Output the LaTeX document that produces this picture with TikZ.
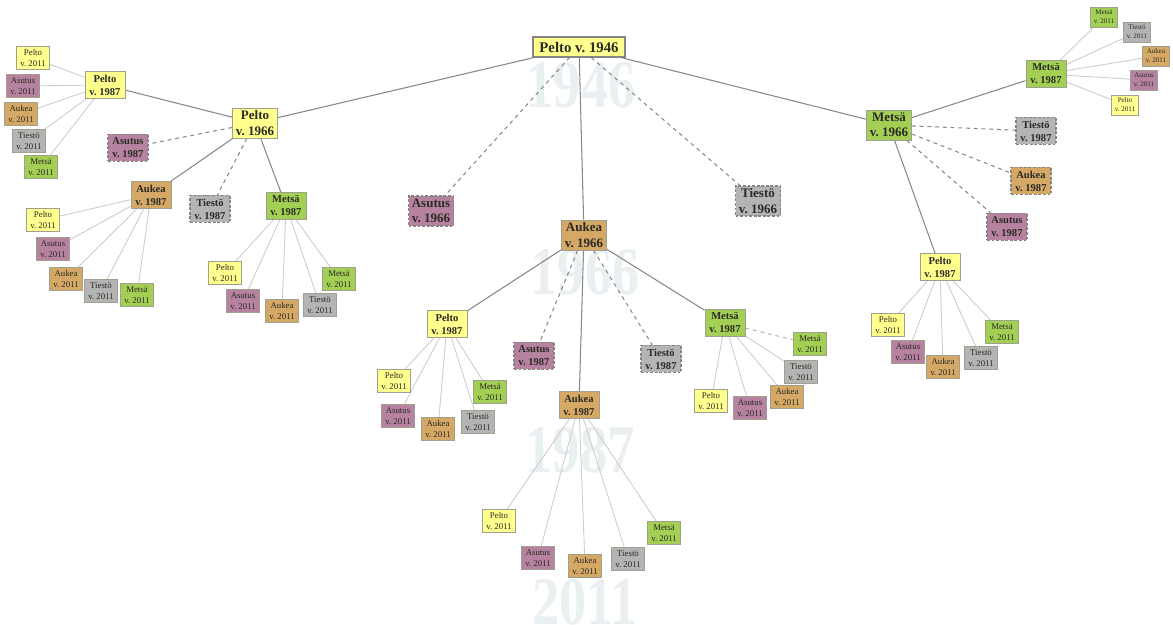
\documentclass[tikz,border=0pt]{standalone}
\usepackage{fontspec}
\setmainfont{Liberation Serif}
\frenchspacing
\pgfdeclarelayer{bg}
\pgfsetlayers{bg,main}
\definecolor{cpel}{HTML}{FFFF8E}
\definecolor{casu}{HTML}{B6829F}
\definecolor{cauk}{HTML}{D5A865}
\definecolor{ctie}{HTML}{B4B4B4}
\definecolor{cmet}{HTML}{A3CF55}
\definecolor{bord}{HTML}{A0A090}
\definecolor{bordd}{HTML}{858585}
\definecolor{edge}{HTML}{888888}
\definecolor{edgel}{HTML}{CDCDCD}
\definecolor{wmc}{HTML}{EAEFF1}
\definecolor{txt}{HTML}{2A2A26}
\newcommand\fiveleaves[8]{%
  \node[#2,ok,pel] (#1p) at (#3) {Pelto\\v. 2011};
  \node[#2,ok,asu] (#1s) at (#4) {Asutus\\v. 2011};
  \node[#2,ok,auk] (#1a) at (#5) {Aukea\\v. 2011};
  \node[#2,ok,tie] (#1t) at (#6) {Tiestö\\v. 2011};
  \node[#2,ok,met] (#1m) at (#7) {Metsä\\v. 2011};
  \begin{pgfonlayer}{bg}
    \draw[e3] (#1) -- (#1p);
    \draw[e3] (#1) -- (#1s);
    \draw[e3] (#1) -- (#1a);
    \draw[e3] (#1) -- (#1t);
    \draw[#8] (#1) -- (#1m);
  \end{pgfonlayer}}
\begin{document}
\begin{tikzpicture}[x=0.02cm,y=-0.02cm,
  base/.style={rectangle,inner sep=0.5pt,align=center,text=txt},
  root/.style={base,draw=bordd,line width=0.6pt,fill=cpel,minimum width=1.84cm,minimum height=0.4cm,font=\bfseries\fontsize{8.4}{10}\selectfont},
  n66/.style={base,minimum width=0.9cm,minimum height=0.6cm,font=\bfseries\fontsize{7.4}{8.8}\selectfont},
  n87/.style={base,minimum width=0.8cm,minimum height=0.54cm,font=\bfseries\fontsize{6}{7.4}\selectfont},
  n11/.style={base,minimum width=0.66cm,minimum height=0.46cm,font=\fontsize{5}{6.2}\selectfont},
  n11s/.style={base,minimum width=0.55cm,minimum height=0.4cm,font=\fontsize{4}{5}\selectfont},
  ok/.style={draw=bord,line width=0.5pt},
  lost/.style={draw=bordd,line width=0.6pt,dash pattern=on 1.6pt off 1pt},
  pel/.style={fill=cpel}, asu/.style={fill=casu}, auk/.style={fill=cauk},
  tie/.style={fill=ctie}, met/.style={fill=cmet},
  e1/.style={draw=edge,line width=0.6pt},
  e1d/.style={draw=edge,line width=0.6pt,dash pattern=on 2.2pt off 2.2pt},
  e3/.style={draw=edgel,line width=0.5pt},
  e3d/.style={draw=edgel!85!black,line width=0.5pt,dash pattern=on 2.2pt off 2.2pt},
  wm/.style={text=wmc,inner sep=0pt,font=\bfseries\fontsize{31}{31}\selectfont}]
\begin{pgfonlayer}{bg}
  \fill[white] (0,0) rectangle (1173,620);
  \node[wm] (w46) at (581,85) {\scalebox{1}[1.25]{1946}};
  \node[wm] (w66) at (585,272) {\scalebox{1}[1.25]{1966}};
  \node[wm] (w87) at (580,450) {\scalebox{1}[1.25]{1987}};
  \node[wm] (w11) at (585,602) {\scalebox{1}[1.25]{2011}};
\end{pgfonlayer}
\useasboundingbox (0,0) rectangle (1173,620);

% root and 1966 level
\node[root] (R) at (579,47) {Pelto v. 1946};
\node[n66,ok,pel] (P66) at (255,123) {Pelto\\v. 1966};
\node[n66,lost,asu] (As66) at (431,211) {Asutus\\v. 1966};
\node[n66,ok,auk] (Au66) at (584,235) {Aukea\\v. 1966};
\node[n66,lost,tie] (Ti66) at (758,201) {Tiestö\\v. 1966};
\node[n66,ok,met] (M66) at (889,125) {Metsä\\v. 1966};

% 1987 level under Pelto 1966
\node[n87,ok,pel] (A1) at (105,85) {Pelto\\v. 1987};
\node[n87,lost,asu] (A2) at (128,148) {Asutus\\v. 1987};
\node[n87,ok,auk] (A3) at (151,195) {Aukea\\v. 1987};
\node[n87,lost,tie] (A4) at (210,209) {Tiestö\\v. 1987};
\node[n87,ok,met] (A5) at (286,206) {Metsä\\v. 1987};

% 1987 level under Aukea 1966
\node[n87,ok,pel] (B1) at (447,324) {Pelto\\v. 1987};
\node[n87,lost,asu] (B2) at (534,356) {Asutus\\v. 1987};
\node[n87,ok,auk] (B3) at (579,405) {Aukea\\v. 1987};
\node[n87,lost,tie] (B4) at (661,359) {Tiestö\\v. 1987};
\node[n87,ok,met] (B5) at (725,323) {Metsä\\v. 1987};

% 1987 level under Metsa 1966
\node[n87,ok,met] (C1) at (1046,74) {Metsä\\v. 1987};
\node[n87,lost,tie] (C2) at (1036,131) {Tiestö\\v. 1987};
\node[n87,lost,auk] (C3) at (1031,181) {Aukea\\v. 1987};
\node[n87,lost,asu] (C4) at (1007,227) {Asutus\\v. 1987};
\node[n87,ok,pel] (C5) at (940,267) {Pelto\\v. 1987};

\begin{pgfonlayer}{bg}
  \draw[e1] (R) -- (P66);
  \draw[e1d] (R) -- (As66);
  \draw[e1] (R) -- (Au66);
  \draw[e1d] (R) -- (Ti66);
  \draw[e1] (R) -- (M66);
  \draw[e1] (P66) -- (A1);
  \draw[e1d] (P66) -- (A2);
  \draw[e1] (P66) -- (A3);
  \draw[e1d] (P66) -- (A4);
  \draw[e1] (P66) -- (A5);
  \draw[e1] (Au66) -- (B1);
  \draw[e1d] (Au66) -- (B2);
  \draw[e1] (Au66) -- (B3);
  \draw[e1d] (Au66) -- (B4);
  \draw[e1] (Au66) -- (B5);
  \draw[e1] (M66) -- (C1);
  \draw[e1d] (M66) -- (C2);
  \draw[e1d] (M66) -- (C3);
  \draw[e1d] (M66) -- (C4);
  \draw[e1] (M66) -- (C5);
\end{pgfonlayer}

% 2011 level
\fiveleaves{A1}{n11}{33,58}{23,86}{21,114}{29,141}{41,167}{e3}
\fiveleaves{A3}{n11}{43,220}{53,249}{66,279}{101,291}{137,295}{e3}
\fiveleaves{A5}{n11}{225,273}{243,301}{282,311}{320,305}{339,279}{e3}
\fiveleaves{B1}{n11}{394,381}{398,416}{438,429}{478,422}{490,392}{e3}
\fiveleaves{B3}{n11}{499,521}{538,558}{585,566}{628,559}{664,533}{e3}
\fiveleaves{B5}{n11}{711,401}{750,408}{787,397}{801,372}{810,344}{e3d}
\fiveleaves{C1}{n11s}{1125,105}{1144,80}{1156,56}{1137,32}{1104,17}{e3}
\fiveleaves{C5}{n11}{888,325}{908,352}{943,367}{981,358}{1002,332}{e3}
\end{tikzpicture}
\end{document}
